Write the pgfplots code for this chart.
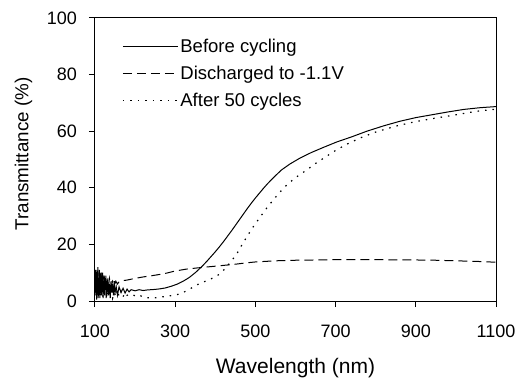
\documentclass[border=0pt]{standalone}
\usepackage{fontspec}
\setmainfont{Liberation Sans}
\usepackage{pgfplots}
\pgfplotsset{compat=1.18}
\begin{document}
\begin{tikzpicture}
\begin{axis}[
  scale only axis,
  width=401bp, height=283bp,
  xmin=100, xmax=1100, ymin=0, ymax=100,
  xtick={100,300,...,1100}, ytick={0,20,...,100},
  xtick pos=bottom, ytick pos=left,
  tick align=outside, major tick length=6bp,
  axis line style={line width=1bp},
  every tick/.style={line width=1bp, black},
  /pgf/number format/1000 sep={},
  /pgf/number format/assume math mode=true,
  ticklabel style={font=\fontsize{18bp}{20bp}\selectfont, inner sep=0pt},
  xticklabel style={yshift=-18bp},
  yticklabel style={xshift=-12bp},
  xlabel={Wavelength (nm)},
  ylabel={Transmittance (\%)},
  xlabel style={font=\fontsize{21bp}{23bp}\selectfont, at={([yshift=-72.3bp]axis description cs:0.5,0)}, anchor=base},
  ylabel style={font=\fontsize{18.8bp}{22bp}\selectfont, at={([xshift=-66.5bp,yshift=5.5bp]axis description cs:0,0.5)}, anchor=base},
  legend cell align=left,
  legend style={at={(0,1)}, anchor=north west, xshift=27bp, yshift=-19bp,
    draw=none, fill=none, inner sep=0pt, row sep=8bp,
    font=\fontsize{18.5bp}{21bp}\selectfont,
    nodes={inner sep=2bp}},
  legend image code/.code={\draw[#1] (0bp,0bp) -- (55bp,0bp);},
]
\addplot[black, line width=1bp] coordinates {
(100,6) (101,11) (102,2) (103,9) (104,0.5) (105,10) (106,3) (107,12) (108,1) (109,8)
(110,4) (111,11) (112,1) (113,9) (114,3) (115,10) (116,2) (117,8) (118,4) (119,10)
(120,1) (121,7) (122,3) (123,9) (124,2) (125,8) (126,4) (127,9) (128,1) (129,7)
(130,3) (132,8) (134,2) (136,6) (138,1) (140,7) (142,3) (144,6) (146,2) (148,7)
(150,3) (153,5) (156,2) (160,5) (165,3) (170,4.5) (175,2.8) (180,4.2) (185,3.2)
(190,4) (200,3.6) (210,4) (220,3.7) (230,3.9) (240,4) (250,4.1) (262,4.3) (275,4.6)
(290,5.2) (304,5.9) (320,7) (335,8.3) (350,10) (360,11.3) (370,12.7) (380,14.2)
(390,15.8) (400,17.4) (410,19.1) (420,20.9) (430,22.8) (440,24.7) (450,26.7)
(460,28.7) (470,30.7) (480,32.7) (490,34.6) (500,36.4) (510,38.1) (520,39.8)
(530,41.4) (545,43.6) (565,46.3) (586,48.4) (610,50.4) (640,52.5) (670,54.3)
(703,56.2) (740,58) (778,60) (820,61.9) (860,63.5) (900,64.8) (944,65.9)
(980,66.8) (1020,67.7) (1060,68.3) (1100,68.7)
};
\addlegendentry{Before cycling}
\addplot[black, line width=1bp, dash pattern=on 9bp off 5bp] coordinates {
(100,5) (101,10) (102,3) (103,11) (104,4) (105,9) (106,2) (107,10) (108,5) (109,8)
(110,3) (111,11) (112,5) (113,8) (114,2) (115,10) (116,5) (117,9) (118,4) (119,8)
(120,3) (122,9) (124,4) (126,8) (128,5) (130,7) (133,4) (136,8) (140,5) (144,7)
(148,5.5) (152,7) (156,6) (160,6.8) (170,7.2) (180,7.4) (200,8) (220,8.5) (240,8.9)
(262,9.4) (280,9.9) (300,10.6) (329,11.3) (370,11.9) (400,12.3) (429,12.7) (450,13)
(479,13.5) (500,13.8) (550,14.2) (600,14.4) (650,14.5) (700,14.6) (800,14.6)
(900,14.5) (950,14.4) (1000,14.2) (1050,14) (1100,13.7)
};
\addlegendentry{Discharged to -1.1V}
\addplot[black, line width=1.2bp, dash pattern=on 1.5bp off 6bp] coordinates {
(100,3) (102,8) (104,1) (106,6) (108,2) (110,9) (112,1) (114,5) (116,2) (118,7)
(120,1) (122,4) (124,2) (127,7) (130,1) (133,4) (136,2) (140,5) (144,1) (148,3)
(152,1.5) (156,4) (160,1.5) (165,3.5) (170,1.5) (175,3) (180,2) (190,2.5) (200,1.8)
(210,2.2) (220,1.3) (230,1.2) (240,1) (255,1.2) (270,1.5) (285,1.8) (304,2.2)
(320,3) (337,4.3) (350,5.3) (362,6.3) (380,7.2) (395,8.2) (412,9.6) (425,11.5)
(437,13.6) (453,16.5) (465,19.5) (478,22.5) (490,25.3) (500,27.3) (511,29.5)
(528,32.8) (545,35.8) (560,38.3) (578,41) (600,43.6) (628,46.3) (650,48.6)
(678,51.2) (700,53.2) (728,55.4) (761,57.6) (800,59.7) (850,61.8) (900,63.4)
(944,64.5) (1000,65.8) (1050,67) (1100,67.8)
};
\addlegendentry{After 50 cycles}
\end{axis}
\pgfresetboundingbox
\path[use as bounding box] (-95bp,-77bp) rectangle (420bp,301bp);
\end{tikzpicture}
\end{document}
